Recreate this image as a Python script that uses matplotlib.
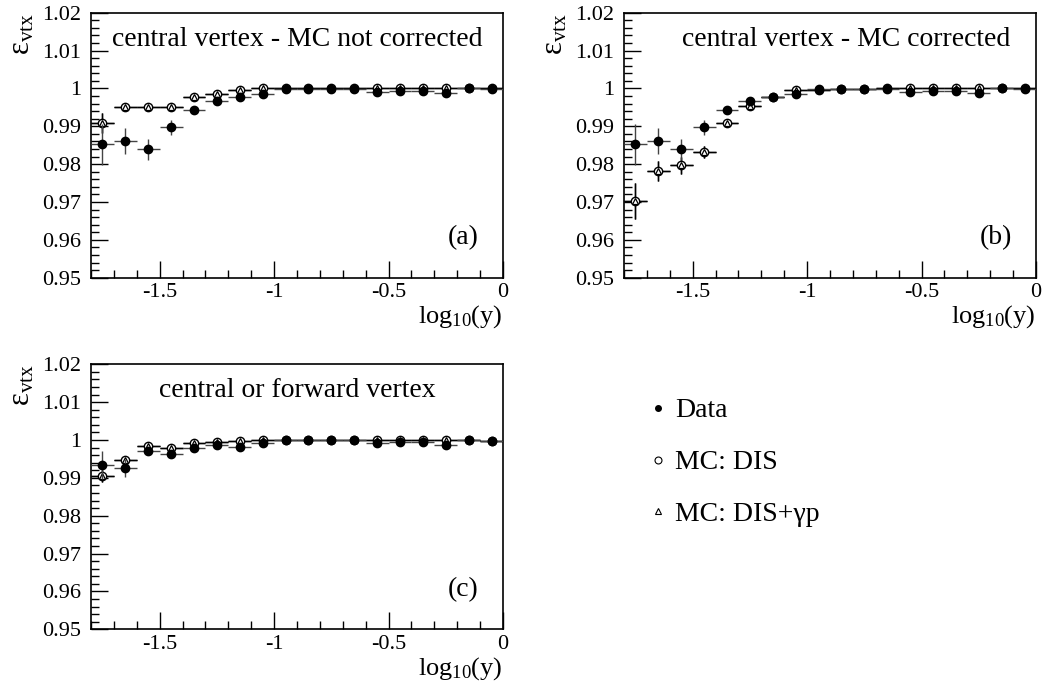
import matplotlib
matplotlib.use("Agg")
import matplotlib.pyplot as plt
from matplotlib.lines import Line2D
from matplotlib.ticker import MultipleLocator, FuncFormatter

plt.rcParams['font.family'] = ['Liberation Serif', 'DejaVu Serif']
plt.rcParams['mathtext.fontset'] = 'custom'
plt.rcParams['mathtext.rm'] = 'Liberation Serif'
plt.rcParams['mathtext.it'] = 'Liberation Serif:italic'
plt.rcParams['axes.unicode_minus'] = False

# ---------------- data ----------------
log_y = [-1.75, -1.65, -1.55, -1.45, -1.35, -1.25, -1.15, -1.05, -0.95,
         -0.85, -0.75, -0.65, -0.55, -0.45, -0.35, -0.25, -0.15, -0.05]
bin_half_width = 0.05

data_central = [0.9852, 0.9862, 0.9839, 0.9897, 0.9942, 0.9966, 0.9977, 0.9986, 0.9999,
                0.9998, 0.9999, 0.9999, 0.9990, 0.9994, 0.9994, 0.9987, 1.0000, 0.9999]
data_central_err = [0.0054, 0.0034, 0.0027, 0.0019, 0.0010, 0.0006, 0.0005, 0.0004, 0.0003,
                    0.0003, 0.0003, 0.0003, 0.0003, 0.0003, 0.0003, 0.0003, 0.0002, 0.0002]

mc_dis_a = [0.9908, 0.9950, 0.9950, 0.9950, 0.9977, 0.9985, 0.9997, 1.0001, 1.0000,
            1.0000, 1.0000, 1.0000, 1.0001, 1.0000, 1.0000, 1.0001, 1.0000, 1.0000]
mc_dis_gp_a = [0.9908, 0.9950, 0.9950, 0.9950, 0.9977, 0.9985, 0.9997, 1.0001, 1.0000,
               1.0000, 1.0000, 1.0000, 1.0001, 1.0000, 1.0000, 1.0001, 1.0000, 1.0000]
mc_a_err = [0.0026, 0.0006, 0.0005, 0.0005, 0.0004, 0.0003, 0.0003, 0.0002, 0.0002,
            0.0002, 0.0002, 0.0002, 0.0002, 0.0002, 0.0002, 0.0002, 0.0002, 0.0002]

mc_dis_b = [0.9703, 0.9782, 0.9797, 0.9832, 0.9909, 0.9953, 0.9978, 0.9997, 0.9997,
            0.9998, 0.9999, 1.0000, 1.0002, 1.0000, 1.0000, 1.0002, 1.0000, 1.0000]
mc_dis_gp_b = [0.9703, 0.9782, 0.9797, 0.9832, 0.9909, 0.9953, 0.9978, 0.9997, 0.9997,
               0.9998, 0.9999, 1.0000, 1.0002, 1.0000, 1.0000, 1.0002, 1.0000, 1.0000]
mc_b_err = [0.0048, 0.0027, 0.0023, 0.0015, 0.0008, 0.0005, 0.0004, 0.0003, 0.0002,
            0.0002, 0.0002, 0.0002, 0.0002, 0.0002, 0.0002, 0.0002, 0.0002, 0.0002]

data_cf = [0.9935, 0.9925, 0.9970, 0.9964, 0.9978, 0.9988, 0.9982, 0.9993, 1.0000,
           1.0000, 1.0000, 1.0000, 0.9993, 0.9994, 0.9994, 0.9986, 1.0000, 0.9998]
data_cf_err = [0.0037, 0.0024, 0.0010, 0.0008, 0.0006, 0.0005, 0.0005, 0.0004, 0.0003,
               0.0003, 0.0003, 0.0003, 0.0003, 0.0003, 0.0003, 0.0003, 0.0002, 0.0002]
mc_dis_c = [0.9905, 0.9946, 0.9984, 0.9980, 0.9991, 0.9996, 0.9997, 1.0000, 1.0000,
            1.0000, 1.0000, 1.0000, 1.0000, 1.0000, 1.0000, 1.0000, 1.0000, 0.9997]
mc_dis_gp_c = [0.9905, 0.9946, 0.9984, 0.9980, 0.9991, 0.9996, 0.9997, 1.0000, 1.0000,
               1.0000, 1.0000, 1.0000, 1.0000, 1.0000, 1.0000, 1.0000, 1.0000, 0.9997]
mc_c_err = [0.0015, 0.0008, 0.0004, 0.0003, 0.0003, 0.0002, 0.0002, 0.0002, 0.0002,
            0.0002, 0.0002, 0.0002, 0.0002, 0.0002, 0.0002, 0.0002, 0.0002, 0.0002]

titles = ["central vertex - MC not corrected", "central vertex - MC corrected",
          "central or forward vertex"]
tags = ["(a)", "(b)", "(c)"]
legend_labels = ["Data", "MC: DIS", "MC: DIS+\u03b3p"]
y_label = "\u03b5$_{\\mathrm{vtx}}$"
x_label = "log$_{10}$(y)"

# ---------------- figure ----------------
W, H = 1044, 688
fig = plt.figure(figsize=(W / 100, H / 100), dpi=100)


def px_axes(left, top, right, bottom):
    return fig.add_axes([left / W, 1 - bottom / H, (right - left) / W, (bottom - top) / H])


ax_a = px_axes(91, 12.7, 503, 277.7)
ax_b = px_axes(624, 12.7, 1036, 277.7)
ax_c = px_axes(91, 364.3, 503, 629.3)

fmt = FuncFormatter(lambda v, p: ('%.2f' % v).rstrip('0').rstrip('.'))
xfmt = FuncFormatter(lambda v, p: ('%.1f' % v).rstrip('0').rstrip('.') if abs(v) > 1e-9 else '0')

panels = [
    (ax_a, data_central, data_central_err, mc_dis_a, mc_dis_gp_a, mc_a_err, 0.5, 0.897),
    (ax_b, data_central, data_central_err, mc_dis_b, mc_dis_gp_b, mc_b_err, 0.54, 0.897),
    (ax_c, data_cf, data_cf_err, mc_dis_c, mc_dis_gp_c, mc_c_err, 0.5, 0.90),
]

for i, (ax, d, de, m1, m2, me, tx, ty) in enumerate(panels):
    ax.errorbar(log_y, m1, xerr=bin_half_width, yerr=me, fmt='o', ms=6,
                mfc='white', mec='black', mew=1.0, ecolor='black', elinewidth=1.0,
                capsize=0, zorder=3)
    ax.errorbar(log_y, m2, xerr=bin_half_width, yerr=me, fmt='^', ms=4.2,
                mfc='white', mec='black', mew=0.9, ecolor='black', elinewidth=1.0,
                capsize=0, zorder=3)
    ax.errorbar(log_y, d, xerr=bin_half_width, yerr=de, fmt='o', ms=6,
                mfc='black', mec='black', ecolor='#444444', elinewidth=1.0,
                capsize=0, zorder=4)
    ax.set_xlim(-1.8, 0)
    ax.set_ylim(0.95, 1.02)
    ax.xaxis.set_major_locator(MultipleLocator(0.5))
    ax.xaxis.set_minor_locator(MultipleLocator(0.1))
    ax.yaxis.set_major_locator(MultipleLocator(0.01))
    ax.yaxis.set_minor_locator(MultipleLocator(0.002))
    ax.yaxis.set_major_formatter(fmt)
    ax.xaxis.set_major_formatter(xfmt)
    ax.tick_params(which='both', direction='in', top=False, right=False, labelsize=16)
    ax.tick_params(axis='y', which='major', length=12, width=1, pad=7)
    ax.tick_params(axis='y', which='minor', length=6, width=1)
    ax.tick_params(axis='x', which='major', length=12, width=1, pad=4)
    ax.tick_params(axis='x', which='minor', length=6, width=1)
    for s in ax.spines.values():
        s.set_linewidth(1.2)
    ax.text(tx, ty, titles[i], transform=ax.transAxes, ha='center', va='center', fontsize=20)
    ax.text(0.903, 0.15, tags[i], transform=ax.transAxes, ha='center', va='center', fontsize=20)
    ax.text(1.0, -0.148, x_label, transform=ax.transAxes, ha='right', va='center',
            fontsize=19)
    ax.text(-0.168, 1.0, y_label, transform=ax.transAxes, rotation=90, ha='center',
            va='top', fontsize=22)

handles = [
    Line2D([], [], ls='none', marker='o', ms=4, mfc='black', mec='black'),
    Line2D([], [], ls='none', marker='o', ms=5, mfc='white', mec='black', mew=0.8),
    Line2D([], [], ls='none', marker='^', ms=5, mfc='white', mec='black', mew=0.8),
]
fig.legend(handles, legend_labels, loc='upper left', bbox_to_anchor=(650 / W, 1 - 398 / H),
           frameon=False, fontsize=20, handlelength=0.6, handletextpad=0.3,
           labelspacing=0.95, borderpad=0, borderaxespad=0)

fig.savefig('out.png', dpi=100)
